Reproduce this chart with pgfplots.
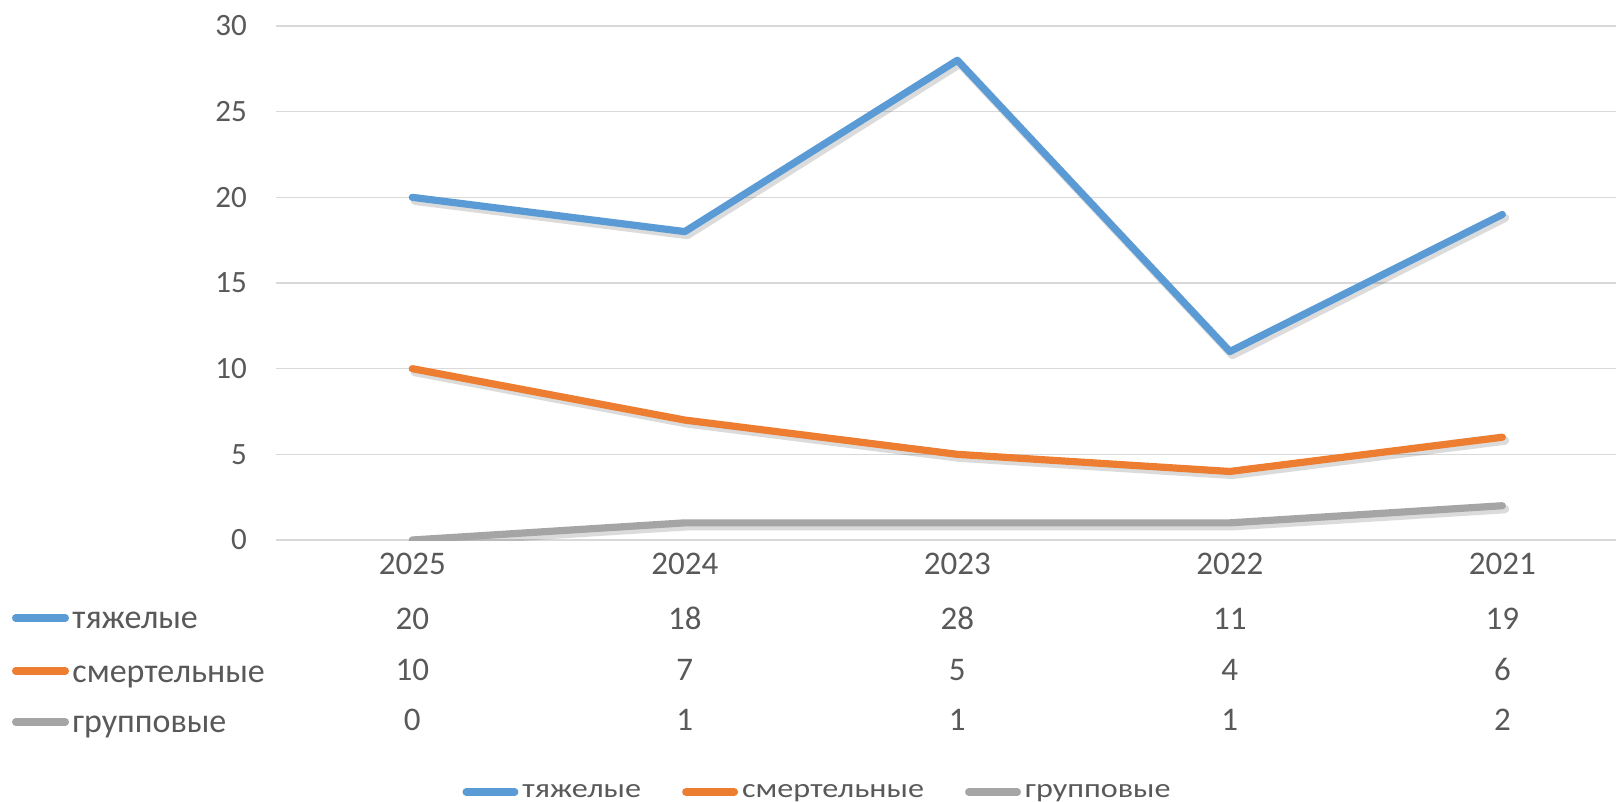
\documentclass[border=0pt]{standalone}
\usepackage{pgfplots}
\pgfplotsset{compat=1.18}
\usepackage{fontspec}
\setmainfont{Carlito}
\newfontfamily\legfont[FakeStretch=1.2]{Carlito}
\definecolor{cblue}{HTML}{5B9BD5}
\definecolor{corange}{HTML}{ED7D31}
\definecolor{cgray}{HTML}{A5A5A5}
\definecolor{ctext}{HTML}{595959}
\definecolor{cgrid}{HTML}{D9D9D9}
\begin{document}
\begin{tikzpicture}
\begin{axis}[
 name=ax, at={(0,0)}, anchor=south west,
 scale only axis, width=670pt, height=257pt,
 xmin=-0.5, xmax=4.417, ymin=0, ymax=30,
 ytick={0,5,...,30}, xtick={0,...,4},
 xticklabels={{2025\\[2.2pt]20\\10\\0},{2024\\[2.2pt]18\\7\\1},{2023\\[2.2pt]28\\5\\1},{2022\\[2.2pt]11\\4\\1},{2021\\[2.2pt]19\\6\\2}},
 xticklabel style={align=center, inner sep=0pt, font=\fontsize{16.5}{25.3}\selectfont, text=ctext, yshift=-6.4pt},
 yticklabel style={anchor=east, inner sep=0pt, font=\fontsize{15.5}{18}\selectfont, text=ctext, xshift=-14.4pt},
 /pgf/number format/assume math mode=true,
 major tick length=0pt,
 axis line style={draw=none},
 ymajorgrids, major grid style={cgrid, line width=0.7pt},
 legend style={at={(axis description cs:0.4034,-0.4903)}, anchor=center, draw=none, fill=none,
   font=\legfont\fontsize{13.4}{15}\selectfont, text=ctext, legend columns=3,
   column sep=2pt,
   /tikz/every even column/.append style={column sep=20.5pt}, inner sep=0pt,
   nodes={inner sep=0pt}},
 legend image code/.code={\draw[#1, line width=3.75pt, line cap=round, opacity=1] (1.9pt,0pt) -- (26.1pt,0pt);},
]
\addplot[black, opacity=0.14, line width=4.2pt, line join=round, line cap=round, forget plot, xshift=1.3pt, yshift=-1.7pt] coordinates {(0,20)(1,18)(2,28)(3,11)(4,19)};
\addplot[black, opacity=0.14, line width=4.2pt, line join=round, line cap=round, forget plot, xshift=1.3pt, yshift=-1.7pt] coordinates {(0,10)(1,7)(2,5)(3,4)(4,6)};
\addplot[black, opacity=0.14, line width=4.2pt, line join=round, line cap=round, forget plot, xshift=1.3pt, yshift=-1.7pt] coordinates {(0,0)(1,1)(2,1)(3,1)(4,2)};
\addplot[cblue, line width=3.6pt, line join=round, line cap=round] coordinates {(0,20)(1,18)(2,28)(3,11)(4,19)};
\addlegendentry{тяжелые}
\addplot[corange, line width=3.6pt, line join=round, line cap=round] coordinates {(0,10)(1,7)(2,5)(3,4)(4,6)};
\addlegendentry{смертельные}
\addplot[cgray, line width=3.6pt, line join=round, line cap=round] coordinates {(0,0)(1,1)(2,1)(3,1)(4,2)};
\addlegendentry{групповые}
\end{axis}
\foreach \c/\t/\y/\b in {cblue/тяжелые/-39/-44.5, corange/смертельные/-65.5/-71.5, cgray/групповые/-91/-96.5}
{
 \draw[\c, line width=3.6pt, line cap=round] (-130.2pt,\y pt) -- (-105.3pt,\y pt);
 \node[anchor=base west, inner sep=0pt, text=ctext, font=\fontsize{17}{20}\selectfont] at (-102pt,\b pt) {\t};
}
\pgfresetboundingbox
\useasboundingbox (-138pt,-131pt) rectangle (670pt,270pt);
\end{tikzpicture}
\end{document}
